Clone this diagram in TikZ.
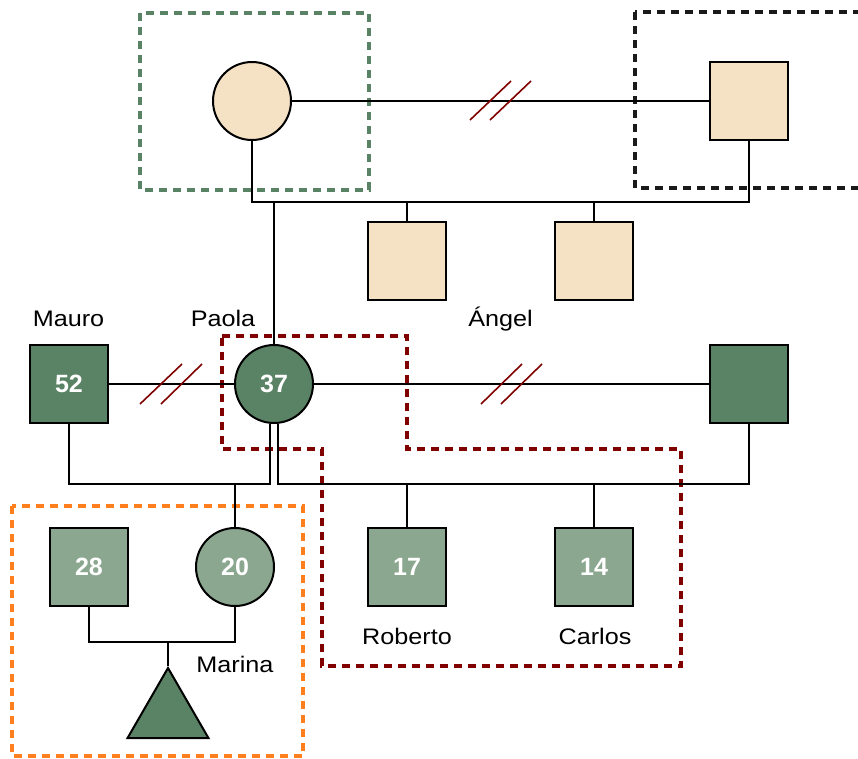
\documentclass[tikz,border=0pt]{standalone}
\usepackage{fontspec}
\setmainfont{Liberation Sans}
\newfontfamily\labelfont{Liberation Sans}[FakeStretch=1.12]
\usetikzlibrary{shapes.geometric}
\definecolor{beige}{HTML}{F5E1C3}
\definecolor{darkgreen}{HTML}{5A8264}
\definecolor{lightgreen}{HTML}{8BA78F}
\definecolor{maroon}{HTML}{800000}
\definecolor{orangebox}{HTML}{FF7F1E}
\definecolor{blackbox}{HTML}{1A1A1A}
\tikzset{
  person/.style={draw=black, line width=2pt, inner sep=0pt, minimum size=78pt,
    font=\fontsize{25}{25}\selectfont\bfseries, text=white},
  male/.style={person, rectangle},
  female/.style={person, circle},
  elder/.style={fill=beige},
  adult/.style={fill=darkgreen},
  young/.style={fill=lightgreen},
  link/.style={draw=black, line width=2pt},
  divorce/.style={draw=maroon, line width=1.6pt},
  group/.style={line width=3.2pt, dash pattern=on 8pt off 6pt},
  pname/.style={font=\labelfont\fontsize{22.5}{22.5}\selectfont, text=black,
    inner sep=0pt, anchor=base}
}
\begin{document}
\begin{tikzpicture}[x=1pt, y=-1pt]
\useasboundingbox (0,0) rectangle (858,758);
% grouping frames
\draw[group, draw=darkgreen] (140,13) rectangle (369,190);
\draw[group, draw=blackbox] (635,12) rectangle (880,188);
\draw[group, draw=orangebox] (12,506) rectangle (303,756);
\draw[group, draw=maroon] (222,336) -- (407,336) -- (407,449) -- (681,449)
  -- (681,666) -- (322,666) -- (322,449) -- (222,449) -- cycle;

% first generation
\node[female, elder] (gm) at (252,101) {};
\node[male, elder] (gf) at (749,101) {};
\node[male, elder] (u1) at (407,261) {};
\node[male, elder] (u2) at (594,261) {};

% second generation
\node[male, adult] (mauro) at (69,384) {52};
\node[female, adult] (paola) at (274,384) {37};
\node[male, adult] (angel) at (749,384) {};

% third generation
\node[male, young] (hus) at (89,567) {28};
\node[female, young] (marina) at (235,567) {20};
\node[male, young] (roberto) at (407,567) {17};
\node[male, young] (carlos) at (594,567) {14};

% fourth generation
\node[regular polygon, regular polygon sides=3, draw=black, line width=2pt,
  fill=darkgreen, inner sep=0pt, minimum size=93.5pt] (baby) at (168,714.7) {};

% names
\node[pname] (nmauro) at (68.5,326) {Mauro};
\node[pname] (npaola) at (223,326) {Paola};
\node[pname] (nangel) at (500.5,326) {Ángel};
\node[pname] (nroberto) at (407,644) {Roberto};
\node[pname] (ncarlos) at (595,644) {Carlos};
\node[pname] (nmarina) at (235,672) {Marina};

% junction points of the sibling bars
\coordinate (j1) at (500,202);
\coordinate (j2) at (235,484);
\coordinate (j3) at (500,484);
\coordinate (j4) at (168,642);

% couples
\draw[link] (gm.east) -- (gf.west);
\draw[link] (mauro.east) -- (paola.west);
\draw[link] (paola.east) -- (angel.west);

% children of the first couple
\draw[link] (gm.south) |- (j1) -| (gf.south);
\draw[link] (paola.north) -- (paola.north |- j1);
\draw[link] (u1.north) -- (u1.north |- j1);
\draw[link] (u2.north) -- (u2.north |- j1);

% children of Mauro and Paola
\draw[link] (mauro.south) |- (j2) -| (paola.264);
\draw[link] (j2) -- (marina.north);

% children of Paola and Ángel
\draw[link] (paola.276) |- (j3) -| (angel.south);
\draw[link] (roberto.north) -- (roberto.north |- j3);
\draw[link] (carlos.north) -- (carlos.north |- j3);

% Marina's child
\draw[link] (hus.south) |- (j4) -| (marina.south);
\draw[link] (j4) -- (baby.corner 1);

% divorce marks
\draw[divorce] (470,120) -- (511,81);
\draw[divorce] (490,120) -- (531,81);
\draw[divorce] (140,404) -- (182,364);
\draw[divorce] (161,404) -- (202,364);
\draw[divorce] (481,404) -- (522,364);
\draw[divorce] (501,404) -- (542,364);
\end{tikzpicture}
\end{document}
